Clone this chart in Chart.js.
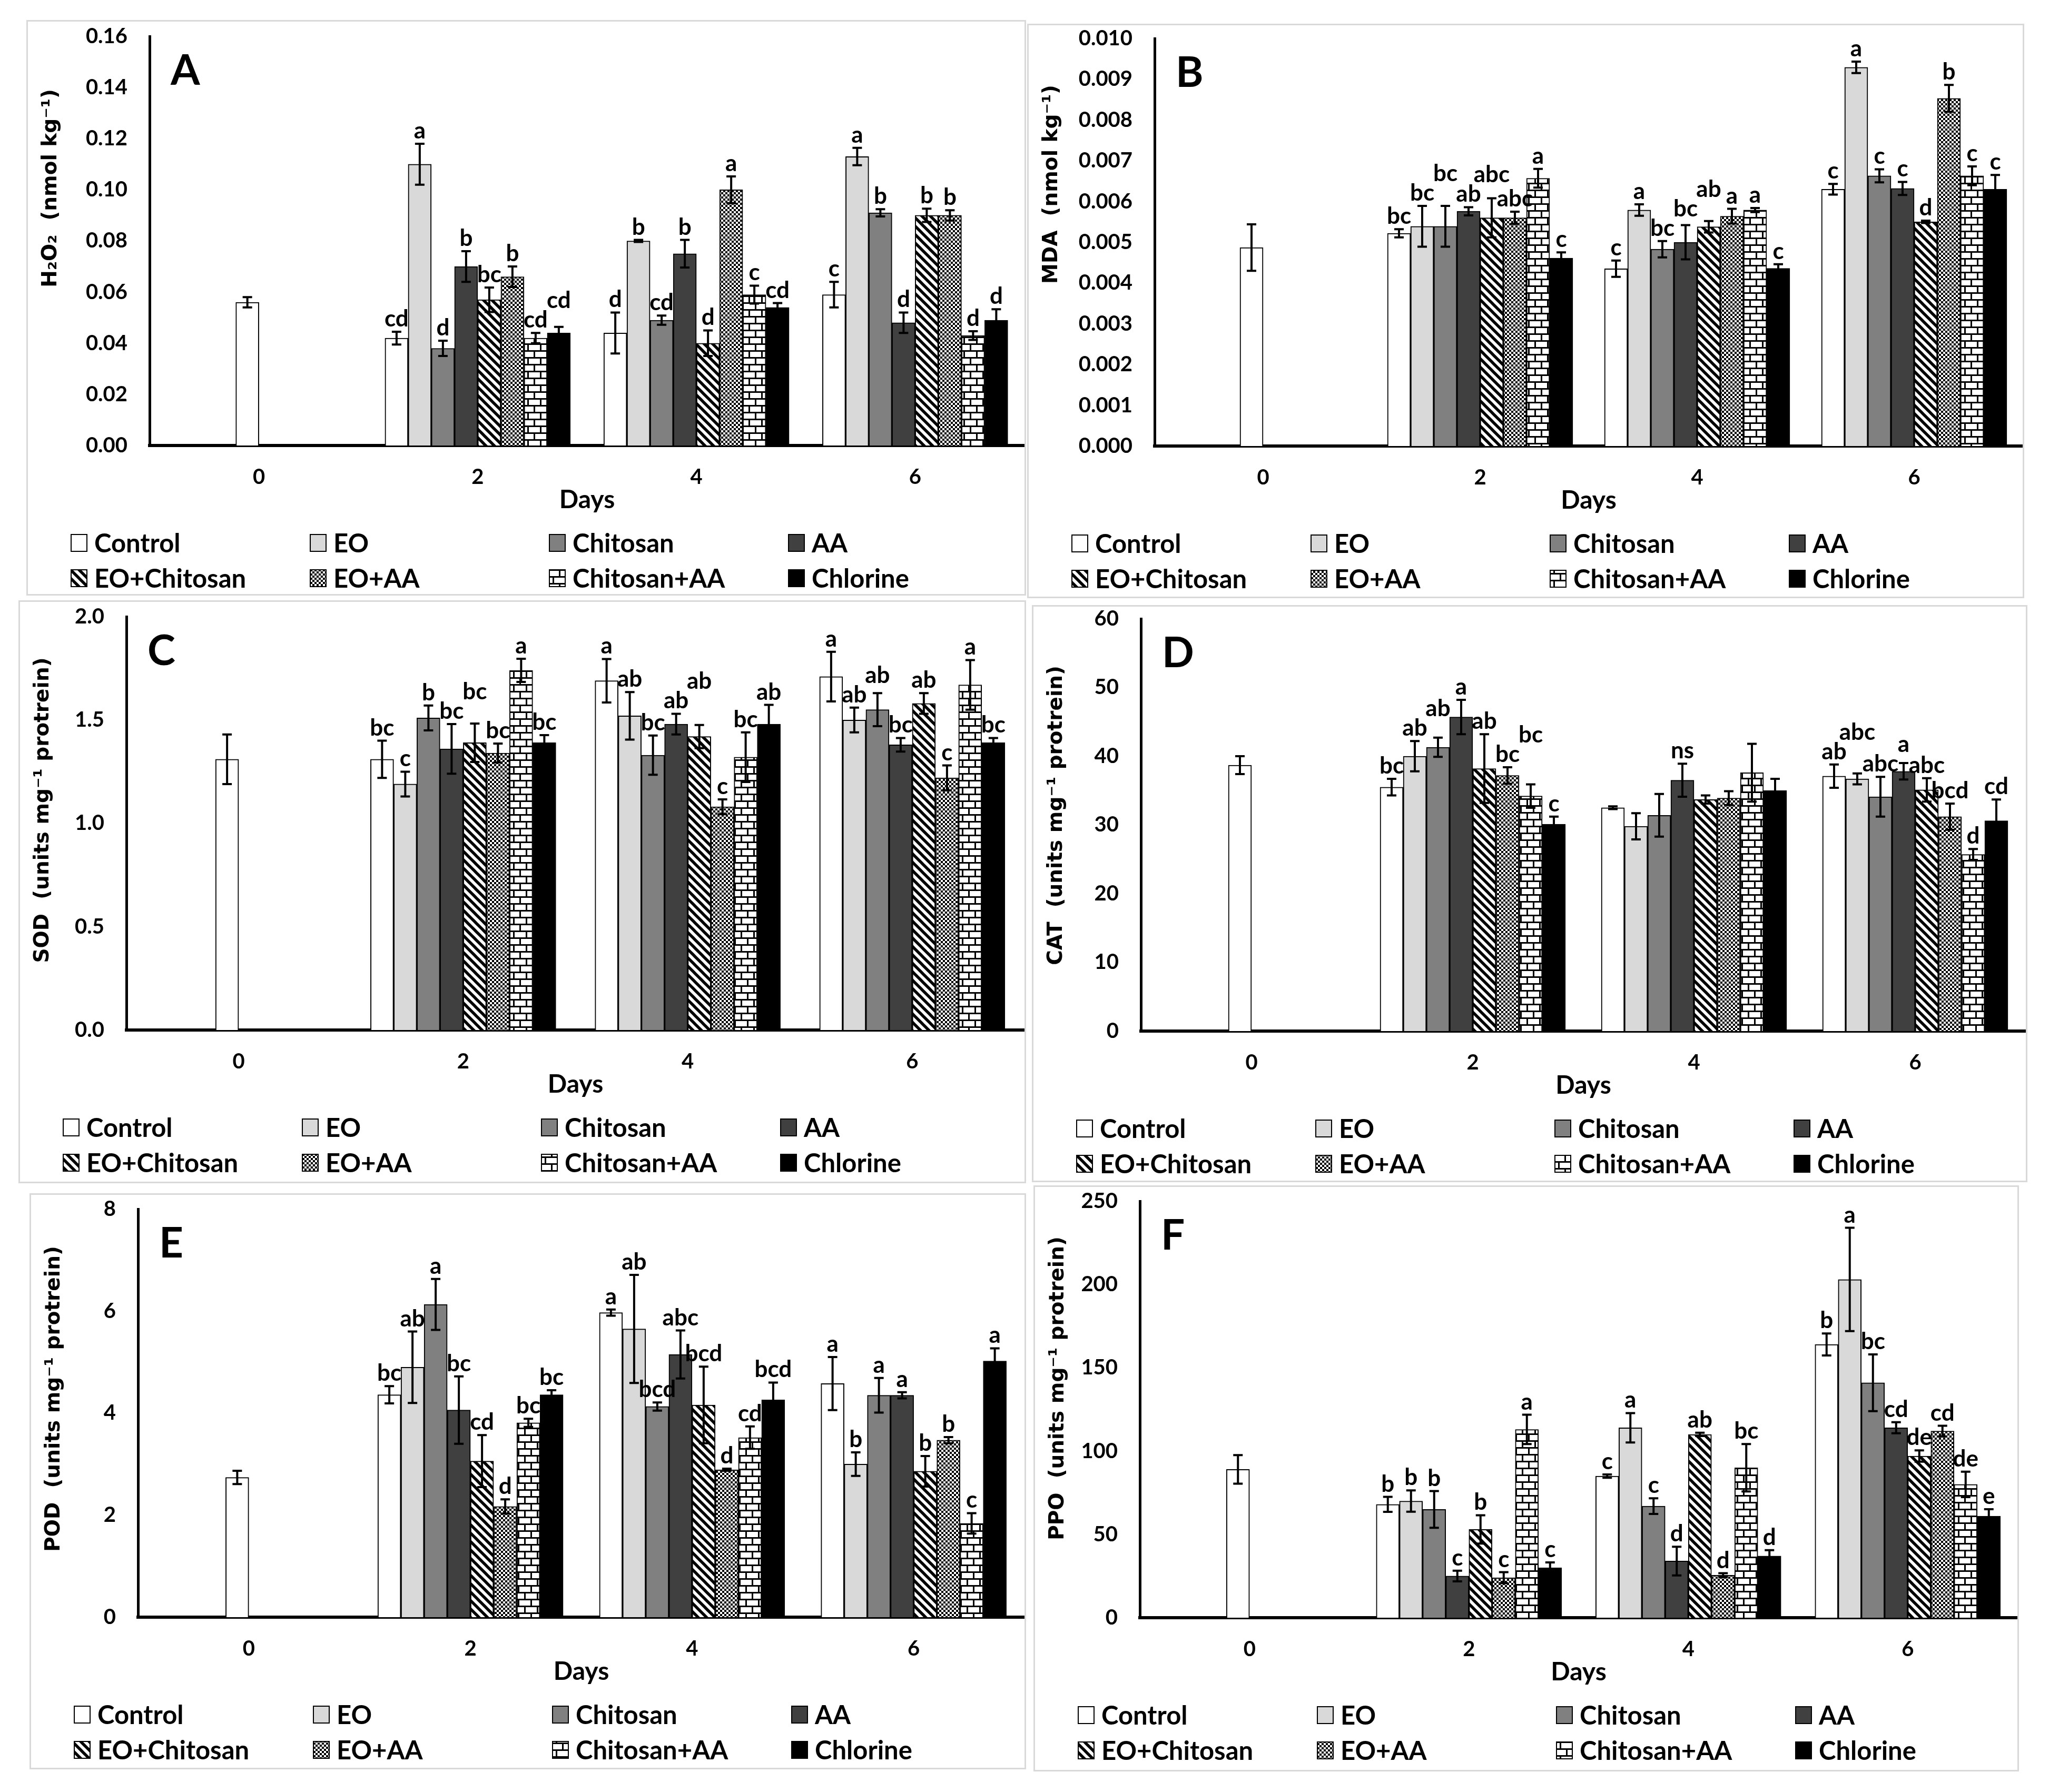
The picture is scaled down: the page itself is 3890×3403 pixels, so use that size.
<!DOCTYPE html>
<html>
<head>
<meta charset="utf-8">
<script src="https://cdn.jsdelivr.net/npm/chart.js@4.4.1/dist/chart.umd.min.js"></script>
<style>
  html, body { margin: 0; padding: 0; background: #fff; width: 3890px; height: 3403px; overflow: hidden; }
  .panel { position: absolute; box-sizing: border-box; border: 3px solid #d9d9d9; background: #fff; }
  .panel canvas { display: block; }
</style>
</head>
<body>
<div class="panel" id="pA"><canvas id="cA"></canvas></div>
<div class="panel" id="pB"><canvas id="cB"></canvas></div>
<div class="panel" id="pC"><canvas id="cC"></canvas></div>
<div class="panel" id="pD"><canvas id="cD"></canvas></div>
<div class="panel" id="pE"><canvas id="cE"></canvas></div>
<div class="panel" id="pF"><canvas id="cF"></canvas></div>
<script>
// categories and series
const days = ['0', '2', '4', '6'];
const treatments = ['Control', 'EO', 'Chitosan', 'AA', 'EO+Chitosan', 'EO+AA', 'Chitosan+AA', 'Chlorine'];

// rows follow treatments, columns follow days (day 0 = control only)
const h2o2Values = [
  [0.056, 0.042, 0.044, 0.059],
  [null, 0.110, 0.080, 0.113],
  [null, 0.038, 0.049, 0.091],
  [null, 0.070, 0.075, 0.048],
  [null, 0.057, 0.040, 0.090],
  [null, 0.066, 0.100, 0.090],
  [null, 0.042, 0.059, 0.043],
  [null, 0.044, 0.054, 0.049]
];
const h2o2Errors = [
  [0.002, 0.0025, 0.008, 0.005],
  [null, 0.008, 0.0004, 0.0034],
  [null, 0.003, 0.0018, 0.0014],
  [null, 0.006, 0.0054, 0.004],
  [null, 0.0048, 0.005, 0.0026],
  [null, 0.004, 0.0052, 0.002],
  [null, 0.002, 0.0035, 0.0017],
  [null, 0.0024, 0.0017, 0.0043]
];
const h2o2Letters = [
  ['', 'cd', 'd', 'c'],
  ['', 'a', 'b', 'a'],
  ['', 'd', 'cd', 'b'],
  ['', 'b', 'b', 'd'],
  ['', 'bc', 'd', 'b'],
  ['', 'b', 'a', 'b'],
  ['', 'cd', 'c', 'd'],
  ['', 'cd', 'cd', 'd']
];

const mdaValues = [
  [0.00487, 0.00522, 0.00435, 0.0063],
  [null, 0.00539, 0.00579, 0.00929],
  [null, 0.00539, 0.00483, 0.00663],
  [null, 0.00576, 0.0050, 0.00632],
  [null, 0.0056, 0.00538, 0.0055],
  [null, 0.0056, 0.00564, 0.00853],
  [null, 0.00657, 0.00579, 0.00663],
  [null, 0.00461, 0.00436, 0.0063]
];
const mdaErrors = [
  [0.00057, 0.0001, 0.0002, 0.00013],
  [null, 0.0005, 0.00014, 0.00014],
  [null, 0.0005, 0.0002, 0.00016],
  [null, 0.0001, 0.00042, 0.00016],
  [null, 0.00048, 0.00014, 0.00003],
  [null, 0.00015, 0.00018, 0.00033],
  [null, 0.00023, 0.00005, 0.00023],
  [null, 0.00014, 0.0001, 0.00035]
];
const mdaLetters = [
  ['', 'bc', 'c', 'c'],
  ['', 'bc', 'a', 'a'],
  ['', 'bc', 'bc', 'c'],
  ['', 'ab', 'bc', 'c'],
  ['', 'abc', 'ab', 'd'],
  ['', 'abc', 'a', 'b'],
  ['', 'a', 'a', 'c'],
  ['', 'c', 'c', 'c']
];

const sodValues = [
  [1.31, 1.31, 1.69, 1.71],
  [null, 1.19, 1.52, 1.50],
  [null, 1.51, 1.33, 1.55],
  [null, 1.36, 1.48, 1.38],
  [null, 1.39, 1.42, 1.58],
  [null, 1.34, 1.08, 1.22],
  [null, 1.74, 1.32, 1.67],
  [null, 1.39, 1.48, 1.39]
];
const sodErrors = [
  [0.12, 0.09, 0.105, 0.12],
  [null, 0.06, 0.115, 0.06],
  [null, 0.06, 0.095, 0.08],
  [null, 0.12, 0.05, 0.033],
  [null, 0.093, 0.056, 0.05],
  [null, 0.046, 0.036, 0.06],
  [null, 0.056, 0.12, 0.12],
  [null, 0.037, 0.093, 0.023]
];
const sodLetters = [
  ['', 'bc', 'a', 'a'],
  ['', 'c', 'ab', 'ab'],
  ['', 'b', 'bc', 'ab'],
  ['', 'bc', 'ab', 'bc'],
  ['', 'bc', 'ab', 'ab'],
  ['', 'bc', 'c', 'c'],
  ['', 'a', 'bc', 'a'],
  ['', 'bc', 'ab', 'bc']
];

const catValues = [
  [38.7, 35.5, 32.5, 37.1],
  [null, 40.0, 29.8, 36.7],
  [null, 41.3, 31.4, 34.1],
  [null, 45.7, 36.5, 37.8],
  [null, 38.2, 33.7, 35.1],
  [null, 37.2, 33.9, 31.2],
  [null, 34.2, 37.6, 25.7],
  [null, 30.1, 35.0, 30.6]
];
const catErrors = [
  [1.3, 1.2, 0.2, 1.7],
  [null, 2.2, 1.9, 0.8],
  [null, 1.4, 3.1, 2.9],
  [null, 2.5, 2.4, 1.2],
  [null, 5.0, 0.6, 1.7],
  [null, 1.2, 1.0, 1.9],
  [null, 1.7, 4.2, 0.8],
  [null, 1.1, 1.7, 3.1]
];
const catLetters = [
  ['', 'bc', '', 'ab'],
  ['', 'ab', '', 'abc'],
  ['', 'ab', '', 'abc'],
  ['', 'a', 'ns', 'a'],
  ['', 'ab', '', 'abc'],
  ['', 'bc', '', 'bcd'],
  ['', 'bc', '', 'd'],
  ['', 'c', '', 'cd']
];

const podValues = [
  [2.74, 4.36, 5.97, 4.58],
  [null, 4.90, 5.65, 3.00],
  [null, 6.13, 4.13, 4.35],
  [null, 4.06, 5.15, 4.35],
  [null, 3.06, 4.16, 2.86],
  [null, 2.17, 2.89, 3.47],
  [null, 3.81, 3.52, 1.84],
  [null, 4.36, 4.26, 5.02]
];
const podErrors = [
  [0.13, 0.17, 0.06, 0.52],
  [null, 0.70, 1.06, 0.23],
  [null, 0.50, 0.08, 0.34],
  [null, 0.66, 0.47, 0.06],
  [null, 0.51, 0.75, 0.30],
  [null, 0.14, 0.02, 0.06],
  [null, 0.08, 0.22, 0.20],
  [null, 0.09, 0.34, 0.25]
];
const podLetters = [
  ['', 'bc', 'a', 'a'],
  ['', 'ab', 'ab', 'b'],
  ['', 'a', 'bcd', 'a'],
  ['', 'bc', 'abc', 'a'],
  ['', 'cd', 'bcd', 'b'],
  ['', 'd', 'd', 'b'],
  ['', 'bc', 'cd', 'c'],
  ['', 'bc', 'bcd', 'a']
];

const ppoValues = [
  [89, 68, 85, 164],
  [null, 70, 114, 203],
  [null, 65, 67, 141],
  [null, 25, 34, 114],
  [null, 53, 110, 97],
  [null, 24, 25.5, 112],
  [null, 113, 90, 80],
  [null, 30, 37, 61]
];
const ppoErrors = [
  [8.6, 4.5, 1, 6.6],
  [null, 6.4, 8.8, 31],
  [null, 11, 4.7, 17],
  [null, 3.2, 8.6, 3.3],
  [null, 8.5, 1, 3.4],
  [null, 3.3, 1.2, 3.2],
  [null, 8.8, 14.2, 7.6],
  [null, 3.2, 3.5, 4.1]
];
const ppoLetters = [
  ['', 'b', 'c', 'b'],
  ['', 'b', 'a', 'a'],
  ['', 'b', 'c', 'bc'],
  ['', 'c', 'd', 'cd'],
  ['', 'b', 'ab', 'de'],
  ['', 'c', 'd', 'cd'],
  ['', 'a', 'bc', 'de'],
  ['', 'c', 'd', 'e']
];

// fill patterns, like the Excel ones
function makePattern(w, h, draw) {
  const c = document.createElement('canvas');
  c.width = w; c.height = h;
  const g = c.getContext('2d');
  g.fillStyle = '#fff';
  g.fillRect(0, 0, w, h);
  g.fillStyle = '#000';
  g.strokeStyle = '#000';
  draw(g, w, h);
  return g.createPattern(c, 'repeat');
}

const stripes = makePattern(16, 16, (g, w, h) => {
  g.lineWidth = 5.5;
  [-w, 0, w].forEach(o => {
    g.beginPath();
    g.moveTo(o - 3, -3);
    g.lineTo(o + w + 3, h + 3);
    g.stroke();
  });
});
const checker = makePattern(8, 8, g => {
  g.fillRect(0, 0, 4, 4);
  g.fillRect(4, 4, 4, 4);
});
const bricks = makePattern(24, 26, g => {
  g.fillRect(0, 0, 24, 3);
  g.fillRect(0, 13, 24, 3);
  g.fillRect(0, 0, 3, 13);
  g.fillRect(12, 13, 3, 13);
});

const fills = ['#ffffff', '#d9d9d9', '#808080', '#404040', stripes, checker, bricks, '#000000'];

const INSET = 3; // panel border width

const panels = [
  { id: 'A', box: [50, 38, 1898, 1093], axisLeft: 234, plotTop: 31, plotBottom: 808, max: 0.16, step: 0.02, dec: 2,
    title: 'H₂O₂  (nmol kg⁻¹)', titleShift: -100, values: h2o2Values, errors: h2o2Errors, letters: h2o2Letters },
  { id: 'B', box: [1950, 45, 1893, 1091], axisLeft: 242, plotTop: 28, plotBottom: 802, max: 0.010, step: 0.001, dec: 3,
    title: 'MDA  (nmol kg⁻¹)', titleShift: -110, values: mdaValues, errors: mdaErrors, letters: mdaLetters },
  { id: 'C', box: [35, 1140, 1913, 1107], axisLeft: 205, plotTop: 31, plotBottom: 816, max: 2.0, step: 0.5, dec: 1,
    title: 'SOD  (units mg⁻¹ protrein)', titleShift: -25, values: sodValues, errors: sodErrors, letters: sodLetters },
  { id: 'D', box: [1959, 1149, 1890, 1096], axisLeft: 207, plotTop: 26, plotBottom: 809, max: 60, step: 10, dec: 0,
    title: 'CAT  (units mg⁻¹ protrein)', titleShift: -18, values: catValues, errors: catErrors, letters: catLetters },
  { id: 'E', box: [56, 2266, 1892, 1094], axisLeft: 206, plotTop: 30, plotBottom: 805, max: 8, step: 2, dec: 0,
    title: 'POD  (units mg⁻¹ protrein)', titleShift: -27, values: podValues, errors: podErrors, letters: podLetters },
  { id: 'F', box: [1962, 2251, 1871, 1113], axisLeft: 202, plotTop: 30, plotBottom: 821, max: 250, step: 50, dec: 0,
    title: 'PPO  (units mg⁻¹ protrein)', titleShift: -40, values: ppoValues, errors: ppoErrors, letters: ppoLetters }
];

const X_SCALE_H = 140;
const LETTER_FONT = 'bold 44px Lato';
const LETTER_H = 34;

// Excel puts a lone category bar in the 4th slot: its right edge sits on the tick
const dayZeroShift = {
  id: 'dayZeroShift',
  afterDatasetsUpdate(chart) {
    const bar = chart.getDatasetMeta(0).data[0];
    if (bar) bar.x -= bar.width / 2;
  }
};

// error bars + significance letters (letters are stacked when they would collide)
const errorBarsPlugin = {
  id: 'errorBars',
  afterDatasetsDraw(chart) {
    const { ctx, scales: { y } } = chart;
    const placed = days.map(() => []);
    ctx.save();
    ctx.font = LETTER_FONT;
    chart.data.datasets.forEach((ds, i) => {
      const meta = chart.getDatasetMeta(i);
      meta.data.forEach((bar, j) => {
        const v = ds.data[j];
        if (v == null) return;
        const e = ds.errors[j] || 0;
        const yHi = y.getPixelForValue(v + e);
        const yLo = y.getPixelForValue(v - e);
        ctx.strokeStyle = '#000';
        ctx.lineWidth = 4;
        ctx.beginPath();
        ctx.moveTo(bar.x, yLo); ctx.lineTo(bar.x, yHi);
        ctx.moveTo(bar.x - 9, yHi); ctx.lineTo(bar.x + 9, yHi);
        ctx.moveTo(bar.x - 9, yLo); ctx.lineTo(bar.x + 9, yLo);
        ctx.stroke();

        const txt = ds.letters[j];
        if (!txt) return;
        const w = ctx.measureText(txt).width;
        const box = { x1: bar.x - w / 2, x2: bar.x + w / 2, y2: yHi - 10 };
        box.y1 = box.y2 - LETTER_H;
        for (let k = 0; k < 30; k++) {
          const hit = placed[j].find(o => box.x1 < o.x2 + 3 && o.x1 < box.x2 + 3 && box.y1 < o.y2 && o.y1 < box.y2);
          if (!hit) break;
          box.y2 = hit.y1 - 3;
          box.y1 = box.y2 - LETTER_H;
        }
        placed[j].push(box);
        ctx.fillStyle = '#000';
        ctx.textAlign = 'center';
        ctx.textBaseline = 'alphabetic';
        ctx.fillText(txt, bar.x, box.y2);
      });
    });
    ctx.restore();
  }
};

// y title, panel letter and the two-row legend
const decorPlugin = {
  id: 'decor',
  afterDraw(chart) {
    const { ctx, chartArea } = chart;
    const p = chart.options.plugins.decor;
    ctx.save();
    ctx.fillStyle = '#000';
    ctx.translate(47 - INSET, (chartArea.top + chartArea.bottom) / 2 + p.shift);
    ctx.rotate(-Math.PI / 2);
    ctx.font = 'bold 39px "DejaVu Sans"';
    ctx.textAlign = 'center';
    ctx.textBaseline = 'middle';
    ctx.fillText(p.title, 0, 0);
    ctx.restore();

    ctx.save();
    ctx.fillStyle = '#000';
    ctx.font = 'bold 80px Lato';
    ctx.textAlign = 'left';
    ctx.textBaseline = 'middle';
    ctx.fillText(p.letter, chartArea.left + 40, chartArea.top + 66);

    treatments.forEach((name, i) => {
      const col = i % 4, row = Math.floor(i / 4);
      const x = 85 - INSET + 454 * col;
      const yc = chartArea.bottom + (row ? 252 : 185);
      ctx.fillStyle = fills[i];
      ctx.fillRect(x, yc - 16, 30, 32);
      ctx.strokeStyle = '#000';
      ctx.lineWidth = 2;
      ctx.strokeRect(x, yc - 16, 30, 32);
      ctx.fillStyle = '#000';
      ctx.font = 'bold 49px Lato';
      ctx.textAlign = 'left';
      ctx.textBaseline = 'middle';
      ctx.fillText(name, x + 44, yc + 2);
    });
    ctx.restore();
  }
};

panels.forEach(p => {
  const [bx, by, bw, bh] = p.box;
  const div = document.getElementById('p' + p.id);
  div.style.left = bx + 'px';
  div.style.top = by + 'px';
  div.style.width = bw + 'px';
  div.style.height = bh + 'px';
  const W = bw - 2 * INSET, H = bh - 2 * INSET;
  const canvas = document.getElementById('c' + p.id);
  canvas.width = W;
  canvas.height = H;
  canvas.style.width = W + 'px';
  canvas.style.height = H + 'px';

  const plotBottom = p.plotBottom - INSET;

  new Chart(canvas, {
    type: 'bar',
    data: {
      labels: days,
      datasets: treatments.map((name, i) => ({
        label: name,
        data: p.values[i],
        errors: p.errors[i],
        letters: p.letters[i],
        backgroundColor: fills[i],
        borderColor: '#000',
        borderWidth: 2,
        barThickness: 44,
        skipNull: true
      }))
    },
    options: {
      responsive: false,
      animation: false,
      events: [],
      layout: {
        padding: { top: p.plotTop - INSET, left: 0, right: 0, bottom: H - plotBottom - X_SCALE_H }
      },
      plugins: {
        legend: { display: false },
        tooltip: { enabled: false },
        decor: { title: p.title, letter: p.id, shift: p.titleShift }
      },
      scales: {
        x: {
          grid: { display: false, drawTicks: false },
          border: { display: true, color: '#000', width: 6 },
          ticks: { color: '#000', font: { family: 'Lato', weight: 'bold', size: 40 }, padding: 36 },
          title: {
            display: true, text: 'Days', color: '#000',
            font: { family: 'Lato', weight: 'bold', size: 48 },
            padding: { top: 0, bottom: 8 }
          },
          afterFit: s => { s.height = X_SCALE_H; }
        },
        y: {
          min: 0,
          max: p.max,
          grid: { display: false, drawTicks: false },
          border: { display: true, color: '#000', width: 5 },
          ticks: {
            stepSize: p.step,
            color: '#000',
            font: { family: 'Lato', weight: 'bold', size: 40 },
            padding: 42,
            callback: v => Number(v).toFixed(p.dec)
          },
          afterFit: s => {
            s.width = p.axisLeft - INSET;
            // keep the label overflow from pushing the plot down
            s.paddingTop = 0;
            s.paddingBottom = 0;
          }
        }
      }
    },
    plugins: [dayZeroShift, errorBarsPlugin, decorPlugin]
  });
});
</script>
</body>
</html>
